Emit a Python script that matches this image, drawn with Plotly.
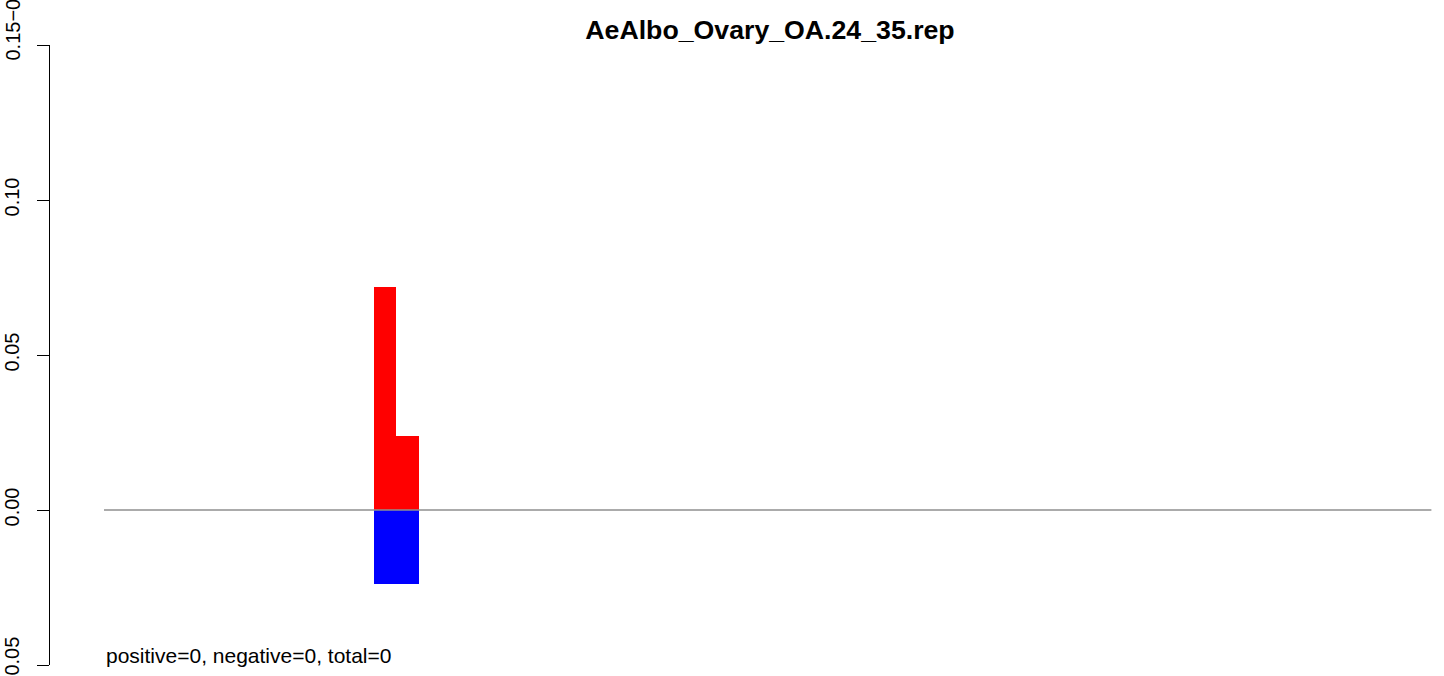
import plotly.graph_objects as go

# Data
positions = [12.5, 13.5]
positive_vals = [0.072, 0.024]
negative_vals = [-0.024, -0.024]
baseline_x = [0, 59]
baseline_y = [0, 0]
y_ticks = [-0.05, 0.0, 0.05, 0.10, 0.15]
y_ticktext = ["\u22120.05", "0.00", "0.05", "0.10", ""]
title_text = "AeAlbo_Ovary_OA.24_35.rep"
footer_text = "positive=0, negative=0, total=0"

W, H = 1444, 676
L, R, T, B = 50, 0, 45, 11

fig = go.Figure()
fig.add_trace(go.Scatter(x=baseline_x, y=baseline_y, mode="lines",
                         line=dict(color="#8f8f8f", width=1.3),
                         hoverinfo="skip", showlegend=False))
fig.add_trace(go.Bar(x=positions, y=positive_vals, width=1,
                     marker=dict(color="#FF0000", line=dict(width=0)),
                     showlegend=False))
fig.add_trace(go.Bar(x=positions, y=negative_vals, width=1,
                     marker=dict(color="#0000FF", line=dict(width=0)),
                     showlegend=False))

font_family = "Liberation Sans, Arial, sans-serif"

fig.update_layout(
    width=W, height=H,
    margin=dict(l=L, r=R, t=T, b=B, pad=0, autoexpand=False),
    paper_bgcolor="white", plot_bgcolor="white",
    barmode="relative", bargap=0,
    font=dict(family=font_family, size=20, color="black"),
    title=dict(text="<b>" + title_text + "</b>",
               x=(770 - L) / (W - L - R), xref="paper",
               y=1 - 30 / H, yref="container",
               xanchor="center", yanchor="middle", automargin=False,
               font=dict(family=font_family, size=26.7, color="black")),
    xaxis=dict(range=[-2.4, 59.56], visible=False, fixedrange=True,
               automargin=False),
    yaxis=dict(range=[-0.05, 0.15], tickvals=y_ticks, ticktext=y_ticktext,
               tickangle=-90, ticks="outside", ticklen=12, tickwidth=1,
               tickcolor="black", showline=True, linecolor="black",
               linewidth=1, showgrid=False, zeroline=False,
               ticklabelstandoff=10, automargin=False,
               ticklabeloverflow="allow",
               tickfont=dict(family=font_family, size=20, color="black")),
)

# clipped top tick label as it appears in the reference
fig.add_annotation(text="0.15\u22120.05", xref="paper", yref="paper",
                   x=-(L - 12.5) / (W - L - R), y=1 - (63 - T) / (H - T - B),
                   xanchor="center", yanchor="bottom", textangle=-90,
                   showarrow=False,
                   font=dict(family=font_family, size=20, color="black"))

fig.add_annotation(text=footer_text, xref="x", yref="y",
                   x=0, y=-0.0468, xanchor="left", yanchor="middle",
                   showarrow=False,
                   font=dict(family=font_family, size=21, color="black"))

fig.write_html("out.html",
               config={"displayModeBar": False},
               post_script="document.body.style.margin='0';"
                           "document.body.style.overflow='hidden';")
